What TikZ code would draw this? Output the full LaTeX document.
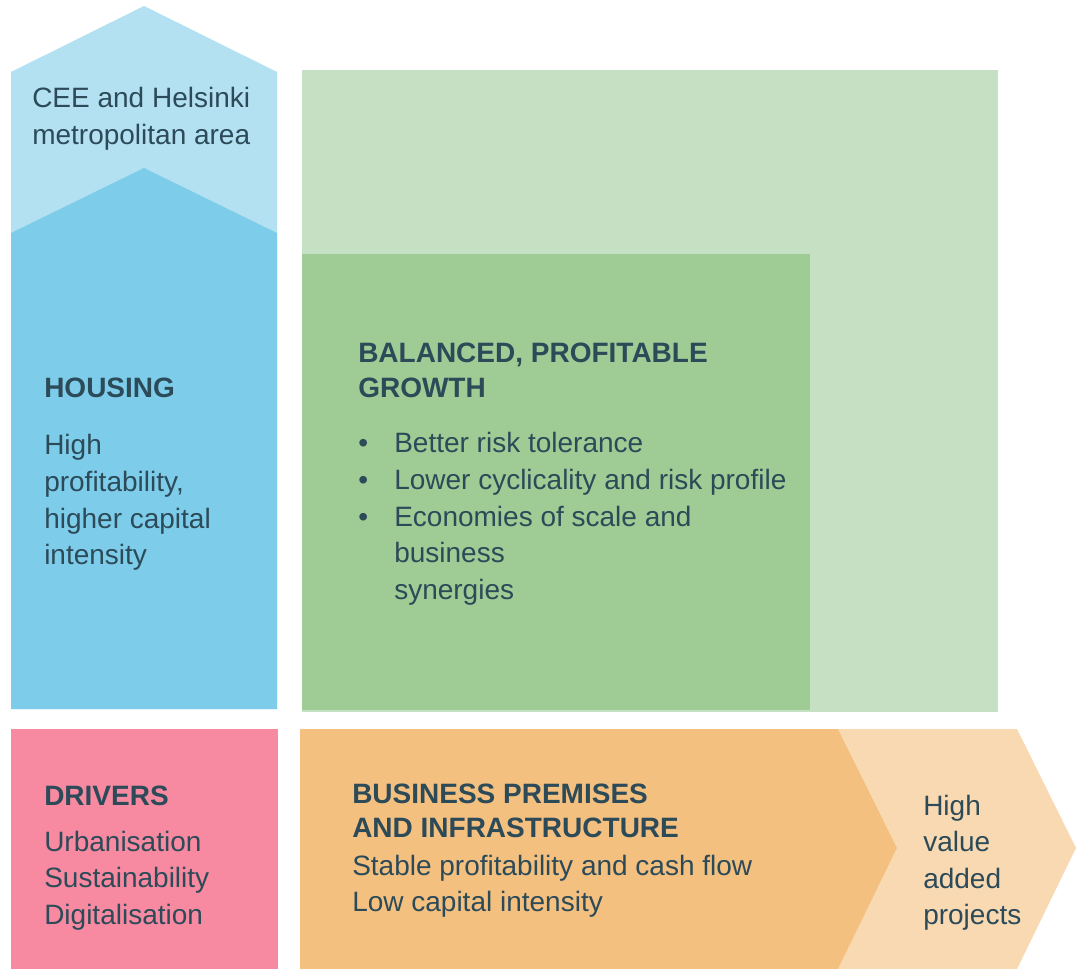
\documentclass[tikz,border=0pt]{standalone}
\usepackage{fontspec}
\setmainfont{Liberation Sans}
\usepackage{tikz}
\usetikzlibrary{positioning}
\definecolor{txt}{HTML}{2C4A58}
\definecolor{skylight}{HTML}{B3E1F1}
\definecolor{sky}{HTML}{7DCDEA}
\definecolor{greenlight}{HTML}{C6E0C3}
\definecolor{greendark}{HTML}{9ECC94}
\definecolor{rose}{HTML}{F78AA0}
\definecolor{orangedark}{HTML}{F4C07F}
\definecolor{orangelight}{HTML}{F8D9B1}
\newcommand{\toplines}[1]{\begin{tabular}[t]{@{}l@{}}#1\end{tabular}}
\tikzset{
    lbl/.style={anchor=base west, inner sep=0pt, text=txt, font=\fontsize{21}{27.4}\selectfont},
    ttl/.style={lbl, font=\fontsize{21}{26.2}\selectfont\bfseries},
    x=0.75pt, y=-0.75pt
}
\begin{document}
\begin{tikzpicture}
			\useasboundingbox (0,0) rectangle (1082,969);
			% shapes
			\fill[skylight] (11,72) -- (144,6) -- (277,72) -- (277,709) -- (11,709) -- cycle;
			\fill[sky] (11,233) -- (144,168) -- (277,233) -- (277,709) -- (11,709) -- cycle;
			\fill[greenlight] (302,70) rectangle (998,712);
			\fill[greendark] (302,254) rectangle (810,710);
			\fill[rose] (11,729) rectangle (278,969);
			\fill[orangelight] (838,729) -- (1017,729) -- (1076,848) -- (1017,969) -- (838,969) -- (897,848) -- cycle;
			\fill[orangedark] (300,729) -- (838,729) -- (897,848) -- (838,969) -- (300,969) -- cycle;

			% texts
			\node[lbl] (region) at (32,108) {\toplines{CEE and Helsinki\\metropolitan area}};
			\node[ttl] (housing) at (44,398) {HOUSING};
			\node[lbl] (housingtxt) at (44,455) {\toplines{High\\profitability,\\higher capital\\intensity}};
			\node[ttl] (growth) at (358,363) {\toplines{BALANCED, PROFITABLE\\GROWTH}};
			\node[lbl] (bullets) at (358,453) {\toplines{\textbullet\\\textbullet\\\textbullet}};
			\node[lbl] (growthtxt) at (394,453) {\toplines{Better risk tolerance\\Lower cyclicality and risk profile\\Economies of scale and\\business\\synergies}};
			\node[ttl] (drivers) at (44,805) {DRIVERS};
			\node[lbl] (driverstxt) at (44,851) {\toplines{Urbanisation\\Sustainability\\Digitalisation}};
			\node[ttl] (premises) at (352,803) {\toplines{BUSINESS PREMISES\\AND INFRASTRUCTURE}};
			\node[lbl] (premisestxt) at (352,875) {\toplines{Stable profitability and cash flow\\Low capital intensity}};
			\node[lbl] (projects) at (923,815) {\toplines{High\\value\\added\\projects}};
		\end{tikzpicture}
\end{document}
